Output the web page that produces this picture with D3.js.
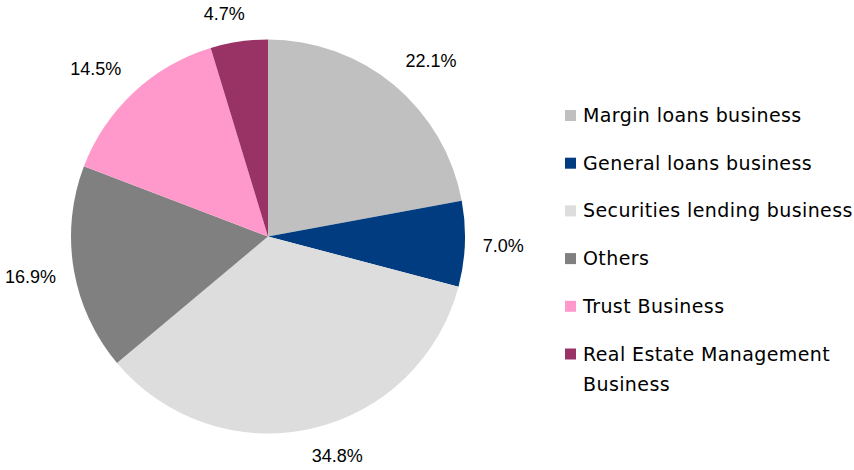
<!DOCTYPE html>
<html><head><meta charset="utf-8">
<script src="https://cdn.jsdelivr.net/npm/d3@7"></script>
<style>body{margin:0;background:#fff}svg{display:block}</style>
</head><body>
<svg id="c" width="854" height="470"></svg>
<script>
const categories = ["Margin loans business","General loans business","Securities lending business","Others","Trust Business","Real Estate Management Business"];
const legendLines = [["Margin loans business"],["General loans business"],["Securities lending business"],["Others"],["Trust Business"],["Real Estate Management","Business"]];
const values = [22.1, 7.0, 34.8, 16.9, 14.5, 4.7];
const labels = ["22.1%","7.0%","34.8%","16.9%","14.5%","4.7%"];
const colors = ["#C0C0C0","#003C7F","#DDDDDD","#808080","#FF99CC","#993366"];

const svg = d3.select("#c");
const font = "'Liberation Sans', Arial, sans-serif";
const legendFont = "'DejaVu Sans', sans-serif";
const cx = 268, cy = 236.5, R = 197;
const pie = d3.pie().sort(null).value(d => d)(values);
const arc = d3.arc().innerRadius(0).outerRadius(R);
const g = svg.append("g").attr("transform", `translate(${cx},${cy})`);
g.selectAll("path").data(pie).join("path").attr("d", arc).attr("fill", (d,i) => colors[i]);

const clamp = v => Math.max(-1, Math.min(1, v));
const gap = 18, lh = 20;
g.selectAll("text").data(pie).join("text")
  .attr("font-family", font).attr("font-size", 18).attr("fill", "#000")
  .attr("text-anchor", "middle").attr("dominant-baseline", "central")
  .text((d,i) => labels[i])
  .each(function(d){
    const a = (d.startAngle + d.endAngle) / 2;
    const s = Math.sin(a), c = Math.cos(a);
    const w = this.getComputedTextLength();
    const x = (R + gap) * s + w/2 * clamp(4*s);
    const y = -(R + gap) * c - lh/2 * clamp(3*c);
    d3.select(this).attr("x", x).attr("y", y);
  });

const rowY = d3.scalePoint().domain(d3.range(categories.length)).range([115.5, 354]);
const lg = svg.append("g");
categories.forEach((cat, i) => {
  const y = rowY(i);
  lg.append("rect").attr("x", 565).attr("y", y - 5.5).attr("width", 11).attr("height", 11).attr("fill", colors[i]);
  legendLines[i].forEach((ln, j) => {
    lg.append("text").attr("x", 583).attr("y", y + 6.5 + j*30)
      .attr("font-family", legendFont).attr("font-size", 19).attr("letter-spacing", 0.4)
      .attr("fill", "#000").text(ln);
  });
});
</script>
</body></html>
